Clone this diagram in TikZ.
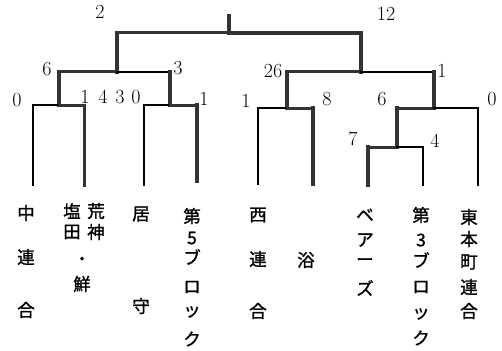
\documentclass[tikz,border=0pt]{standalone}
\usepackage{fontspec}
\newfontfamily\cjk[FakeBold=1.2]{Noto Sans CJK JP}
\begin{document}
\begin{tikzpicture}[x=1pt,y=-1pt]
\tikzset{
 bline/.style={line width=4.5pt, draw=black!80, line cap=rect},
 mline/.style={line width=3pt, draw=black!80, line cap=rect},
 wline/.style={line width=1.6pt, draw=black, line cap=rect},
 num/.style={font=\fontsize{20}{20}\selectfont, inner sep=0pt},
 ch/.style={font=\cjk\fontsize{17.5}{17.5}\selectfont, inner sep=0pt},
}
\useasboundingbox[fill=white] (0,0) rectangle (502,350);
% junctions
\coordinate (ft) at (229,16);
\coordinate (fc) at (229,33);
\coordinate (l1) at (117,33);
\coordinate (r1) at (361,33);
\coordinate (l2) at (117,72);
\coordinate (r2) at (361,72);
\coordinate (a1) at (59,72);  \coordinate (a2) at (59,105);
\coordinate (b1) at (170,72); \coordinate (b2) at (170,105);
\coordinate (c1) at (287,72); \coordinate (c2) at (287,108);
\coordinate (d1) at (434,72); \coordinate (d2) at (434,108);
\coordinate (e1) at (397,108); \coordinate (e2) at (397,147);
\coordinate (t1a) at (33,105);  \coordinate (t1b) at (33,185);
\coordinate (t2a) at (84,105);  \coordinate (t2b) at (84,185);
\coordinate (t3a) at (144,105); \coordinate (t3b) at (144,185);
\coordinate (t4a) at (197,105); \coordinate (t4b) at (197,181);
\coordinate (t5a) at (258,108); \coordinate (t5b) at (258,184);
\coordinate (t6a) at (313,108); \coordinate (t6b) at (313,184);
\coordinate (t7a) at (368,147); \coordinate (t7b) at (368,185);
\coordinate (t8a) at (423,147); \coordinate (t8b) at (423,185);
\coordinate (t9a) at (478,108); \coordinate (t9b) at (478,185);
% final
\draw[bline] (ft) -- (fc);
\draw[mline] (l1) -- (fc);
\draw[bline] (fc) -- (r1);
\draw[bline] (l1) -- (l2);
\draw[bline] (r1) -- (r2);
% left semi
\draw[mline] (a1) -- (l2);
\draw[wline] (l2) -- (b1);
\draw[bline] (a1) -- (a2);
\draw[bline] (b1) -- (b2);
% QF1
\draw[wline] (t1a) -- (a2);
\draw[mline] (a2) -- (t2a);
\draw[wline] (t1a) -- (t1b);
\draw[mline] (t2a) -- (t2b);
% QF2
\draw[wline] (t3a) -- (b2);
\draw[mline] (b2) -- (t4a);
\draw[wline] (t3a) -- (t3b);
\draw[bline] (t4a) -- (t4b);
% right semi
\draw[mline] (c1) -- (r2);
\draw[wline] (r2) -- (d1);
\draw[bline] (c1) -- (c2);
\draw[bline] (d1) -- (d2);
% QF3
\draw[wline] (t5a) -- (c2);
\draw[mline] (c2) -- (t6a);
\draw[wline] (t5a) -- (t5b);
\draw[bline] (t6a) -- (t6b);
% QF4
\draw[mline] (e1) -- (d2);
\draw[wline] (d2) -- (t9a);
\draw[wline] (t9a) -- (t9b);
\draw[bline] (e1) -- (e2);
% sub
\draw[mline] (t7a) -- (e2);
\draw[wline] (e2) -- (t8a);
\draw[bline] (t7a) -- (t7b);
\draw[wline] (t8a) -- (t8b);
% scores
\node[num] (s0) at (100,12) {2};
\node[num] (s1) at (386,14) {12};
\node[num] (s2) at (47,69) {6};
\node[num] (s3) at (178,68) {3};
\node[num] (s4) at (17,100) {0};
\node[num] (s5) at (85,97) {1};
\node[num] (s6) at (103,97) {4};
\node[num] (s7) at (120,97) {3};
\node[num] (s8) at (136,97) {0};
\node[num] (s9) at (204,99) {1};
\node[num] (s10) at (246,101) {1};
\node[num] (s11) at (273,71) {26};
\node[num] (s12) at (442,71) {1};
\node[num] (s13) at (327,99) {8};
\node[num] (s14) at (382,99) {6};
\node[num] (s15) at (492,99) {0};
\node[num] (s16) at (353,139) {7};
\node[num] (s17) at (435,141) {4};
% team names
\foreach \c/\y [count=\i] in {中/213, 連/257, 合/310}
  \node[ch] (na\i) at (26,\y) {\c};
\foreach \c/\y [count=\i] in {荒/211, 神/232}
  \node[ch] (nb\i) at (96,\y) {\c};
\foreach \c/\y [count=\i] in {塩/211, 田/232}
  \node[ch] (nc\i) at (72,\y) {\c};
\node[ch] (nd1) at (82,261) {・};
\node[ch] (nd2) at (82,284) {鮮};
\foreach \c/\y [count=\i] in {居/214, 守/306}
  \node[ch] (ne\i) at (141,\y) {\c};
\foreach \c/\y [count=\i] in {第/216, 5/238, ブ/257, ロ/287, ッ/312, ク/339}
  \node[ch] (nf\i) at (192,\y) {\c};
\foreach \c/\y [count=\i] in {西/215, 連/259, 合/311}
  \node[ch] (ng\i) at (258,\y) {\c};
\node[ch] (nh1) at (306,260) {浴};
\foreach \c/\y [count=\i] in {ベ/215, ア/240, ー/262, ズ/288}
  \node[ch] (ni\i) at (365,\y) {\c};
\foreach \c/\y [count=\i] in {第/215, 3/240, ブ/260, ロ/287, ッ/314, ク/338}
  \node[ch] (nj\i) at (421,\y) {\c};
\foreach \c/\y [count=\i] in {東/217, 本/239, 町/262, 連/287, 合/311}
  \node[ch] (nk\i) at (469,\y) {\c};
\end{tikzpicture}
\end{document}
